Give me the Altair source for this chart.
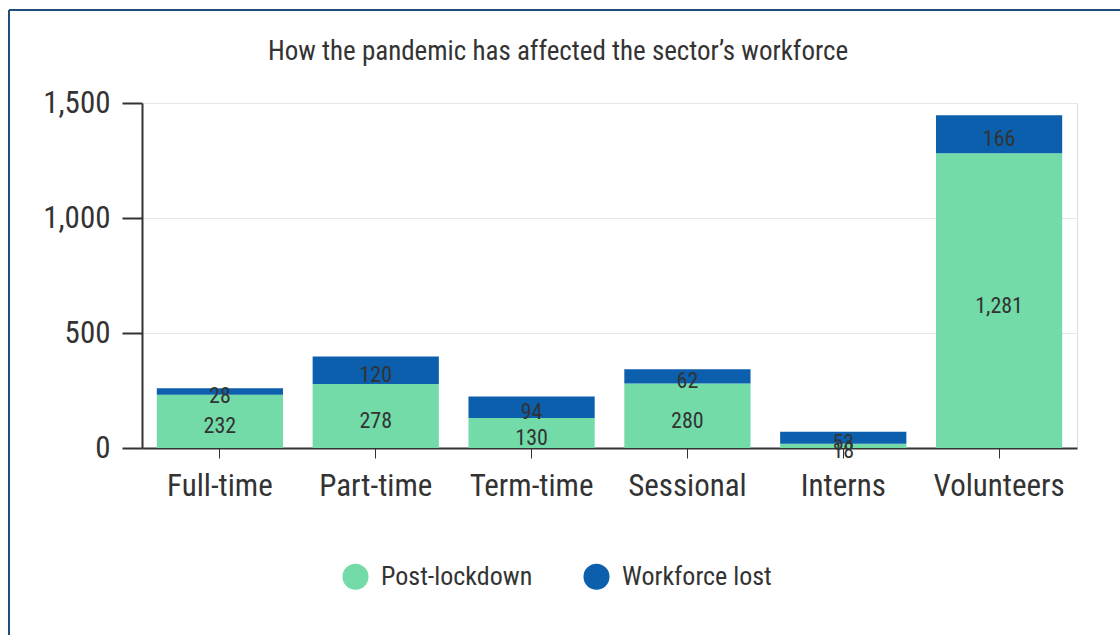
import altair as alt
import pandas as pd

categories = ["Full-time", "Part-time", "Term-time", "Sessional", "Interns", "Volunteers"]
post_lockdown = [232, 278, 130, 280, 18, 1281]
workforce_lost = [28, 120, 94, 62, 53, 166]
series_names = ["Post-lockdown", "Workforce lost"]
series_colors = ["#72dba8", "#0b5fad"]
y_ticks = [0, 500, 1000, 1500]
title_text = "How the pandemic has affected the sector\u2019s workforce"

rows = []
for c, p, w in zip(categories, post_lockdown, workforce_lost):
    rows.append({"category": c, "series": series_names[0], "value": p, "order": 0})
    rows.append({"category": c, "series": series_names[1], "value": w, "order": 1})
df = pd.DataFrame(rows)

FONT = "Roboto Condensed, Liberation Sans Narrow, Roboto"
W, H = 935, 345

base = alt.Chart(df)

bars = base.mark_bar().encode(
    x=alt.X("category:N", sort=categories,
            scale=alt.Scale(paddingInner=0.19, paddingOuter=0.095),
            axis=alt.Axis(title=None, labelAngle=0, labelFontSize=31, labelColor="#333",
                          tickSize=10, tickColor="#333", domainColor="#333", domainWidth=2,
                          labelPadding=13, labelFont=FONT, grid=False)),
    y=alt.Y("value:Q", stack="zero",
            scale=alt.Scale(domain=[0, 1500], nice=False),
            axis=alt.Axis(title=None, values=y_ticks, format=",d", labelFontSize=31,
                          labelColor="#333", tickSize=20, tickColor="#333", tickWidth=2,
                          domainColor="#333", domainWidth=2, labelPadding=12,
                          gridColor="#e6e6e6", labelFont=FONT)),
    color=alt.Color("series:N", scale=alt.Scale(domain=series_names, range=series_colors),
                    legend=alt.Legend(title=None, orient="none", legendX=200, legendY=460,
                                      direction="horizontal", symbolType="circle",
                                      symbolSize=680, symbolStrokeWidth=0, symbolOpacity=1,
                                      labelFontSize=26, labelColor="#333", labelFont=FONT,
                                      columnPadding=50, labelOffset=12)),
    order=alt.Order("order:Q"),
)

labels = base.transform_stack(
    stack="value", groupby=["category"], as_=["v0", "v1"],
    sort=[alt.SortField("order", order="ascending")]
).transform_calculate(
    mid="(datum.v0 + datum.v1) / 2"
).mark_text(fontSize=22, color="#333", baseline="middle", dy=5, font=FONT).encode(
    x=alt.X("category:N", sort=categories),
    y=alt.Y("mid:Q"),
    text=alt.Text("value:Q", format=",d"),
)

title_df = pd.DataFrame({"t": [title_text]})
title = alt.Chart(title_df).mark_text(fontSize=27, color="#333", font=FONT,
                                      baseline="middle", align="center").encode(
    x=alt.value(416), y=alt.value(-51), text="t:N")

one = pd.DataFrame({"a": [0]})
border_left = alt.Chart(one).mark_rule(color="#1f4e79", strokeWidth=2).encode(
    x=alt.value(-133), y=alt.value(-93), y2=alt.value(540))
border_top = alt.Chart(one).mark_rule(color="#1f4e79", strokeWidth=2).encode(
    x=alt.value(-133), x2=alt.value(990), y=alt.value(-93))

chart = alt.layer(bars, labels, title, border_left, border_top).properties(
    width=W, height=H,
    autosize=alt.AutoSizeParams(type="none"),
    padding={"left": 142, "top": 103, "right": 1120 - 142 - W, "bottom": 635 - 103 - H},
).configure_view(stroke=None).configure(background="white")

chart.save("out.html", embed_options={"renderer": "svg", "actions": False})
